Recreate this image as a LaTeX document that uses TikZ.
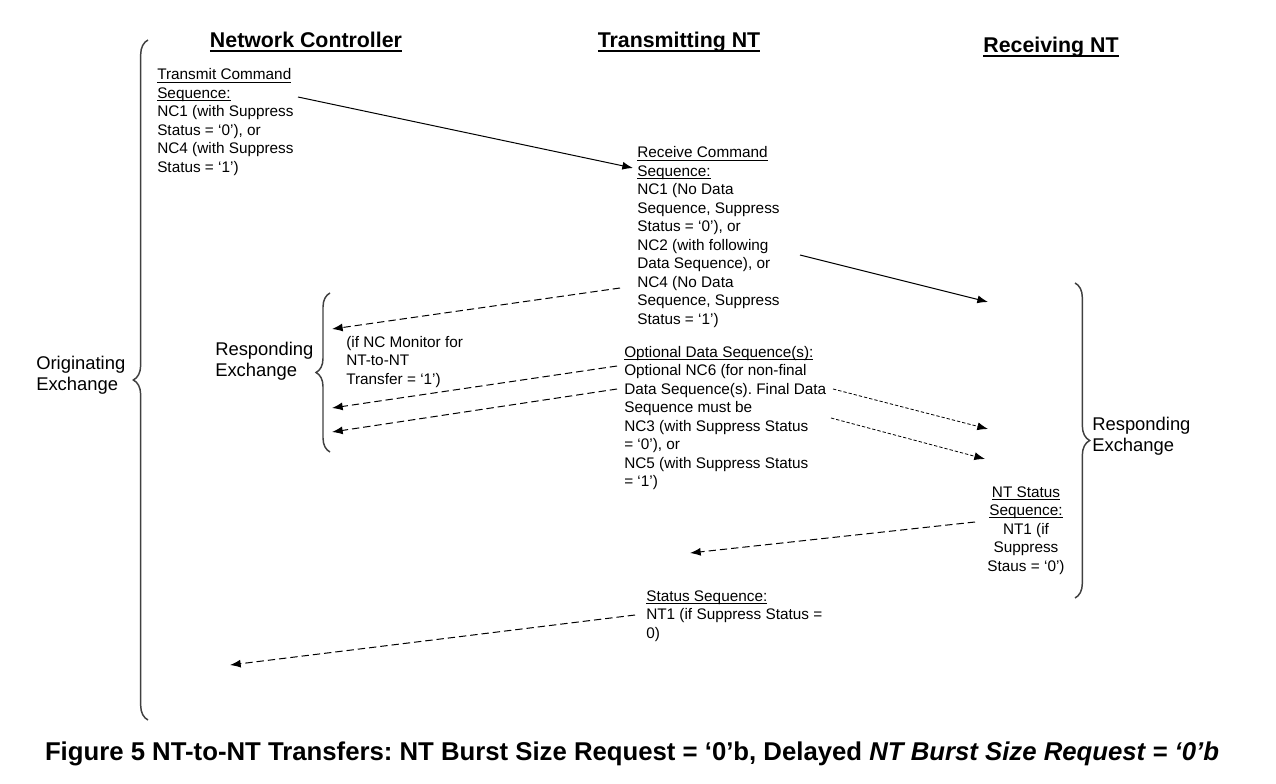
\documentclass[tikz,border=0pt]{standalone}
\usepackage{fontspec}
\setmainfont{Liberation Sans}
\usetikzlibrary{arrows.meta,decorations.pathreplacing}
\newcommand\lnsL[1]{\begin{tabular}[t]{@{}l@{}}#1\end{tabular}}
\newcommand\lnsC[1]{\begin{tabular}[t]{@{}c@{}}#1\end{tabular}}
\newcommand\myul[1]{{\setbox0\hbox{#1}\rlap{\vrule height -0.11em depth 0.17em width \wd0}\box0}}
\begin{document}
\frenchspacing
\begin{tikzpicture}[x=0.75pt,y=-0.75pt,
  txt/.style={inner sep=0pt, anchor=base west, font=\fontsize{11.5}{13.875}\selectfont},
  txtc/.style={inner sep=0pt, anchor=base, font=\fontsize{11.5}{13.875}\selectfont},
  lbl/.style={inner sep=0pt, anchor=base west, font=\fontsize{13.8}{15.75}\selectfont},
  head/.style={inner sep=0pt, anchor=base, font=\fontsize{16}{19}\selectfont\bfseries},
  solidarrow/.style={line width=0.75pt, -{Latex[length=8pt,width=6pt]}},
  dasharrow/.style={line width=0.75pt, dash pattern=on 5.5pt off 3pt, -{Latex[length=8pt,width=6pt]}},
  finearrow/.style={line width=0.6pt, dash pattern=on 2.5pt off 1.5pt, -{Latex[length=8pt,width=6pt]}},
  bracestyle/.style={line width=1.1pt, draw=black!75, decorate, decoration={brace, amplitude=#1}},
]
\useasboundingbox (0,0) rectangle (1276,784);

% headings
\node[head] (hnc) at (306,48) {\myul{Network Controller}};
\node[head] (htx) at (679,48) {\myul{Transmitting NT}};
\node[head] (hrx) at (1051,53) {\myul{Receiving NT}};

% braces
\draw[bracestyle=11pt] (148,720) -- (148,40);
\node[lbl] (orig) at (36,369) {\lnsL{Originating\\Exchange}};

\draw[bracestyle=10.5pt] (330,452) -- (330,293);
\node[lbl] (resp1) at (215,355) {\lnsL{Responding\\Exchange}};

\draw[bracestyle=11pt] (1075,283) -- (1075,598);
\node[lbl] (resp2) at (1092,430) {\lnsL{Responding\\Exchange}};

% text blocks
\node[txt] (tcs) at (157,80) {\lnsL{\myul{Transmit Command}\\\myul{Sequence:}\\NC1 (with Suppress\\Status = ‘0’), or\\NC4 (with Suppress\\Status = ‘1’)}};

\node[txt] (rcs) at (637,158) {\lnsL{\myul{Receive Command}\\\myul{Sequence:}\\NC1 (No Data\\Sequence, Suppress\\Status = ‘0’), or\\NC2 (with following\\Data Sequence), or\\NC4 (No Data\\Sequence, Suppress\\Status = ‘1’)}};

\node[txt] (mon) at (346,347) {\lnsL{(if NC Monitor for\\NT-to-NT\\Transfer = ‘1’)}};

\node[txt] (ods) at (624,357) {\lnsL{\myul{Optional Data Sequence(s):}\\Optional NC6 (for non-final\\Data Sequence(s). Final Data\\Sequence must be\\NC3 (with Suppress Status\\= ‘0’), or\\NC5 (with Suppress Status\\= ‘1’)}};

\node[txtc] (nts) at (1026,497) {\lnsC{\myul{NT Status}\\\myul{Sequence:}\\NT1 (if\\Suppress\\Staus = ‘0’)}};

\node[txt] (ss) at (646,601) {\lnsL{\myul{Status Sequence:}\\NT1 (if Suppress Status =\\0)}};

% connector end coordinates
\coordinate (a1s) at (298,97);  \coordinate (a1e) at (633,168);
\coordinate (a2s) at (800,255); \coordinate (a2e) at (988,302);
\coordinate (d1s) at (620,288); \coordinate (d1e) at (332,329);
\coordinate (d2s) at (617,366); \coordinate (d2e) at (332,408);
\coordinate (d3s) at (617,389); \coordinate (d3e) at (332,432);
\coordinate (f1s) at (833,389); \coordinate (f1e) at (988,429);
\coordinate (f2s) at (831,418); \coordinate (f2e) at (985,459);
\coordinate (d4s) at (975,522); \coordinate (d4e) at (690,553);
\coordinate (d5s) at (635,615); \coordinate (d5e) at (230,665);

\draw[solidarrow] (a1s) -- (a1e);
\draw[solidarrow] (a2s) -- (a2e);
\draw[dasharrow] (d1s) -- (d1e);
\draw[dasharrow] (d2s) -- (d2e);
\draw[dasharrow] (d3s) -- (d3e);
\draw[finearrow] (f1s) -- (f1e);
\draw[finearrow] (f2s) -- (f2e);
\draw[dasharrow] (d4s) -- (d4e);
\draw[dasharrow] (d5s) -- (d5e);

% caption
\node[inner sep=0pt, anchor=base, font=\fontsize{19.3}{22}\selectfont\bfseries] (cap) at (632,760)
  {Figure 5 NT-to-NT Transfers: NT Burst Size Request = ‘0’b, Delayed \textit{NT Burst Size Request = ‘0’b}};
\end{tikzpicture}
\end{document}
